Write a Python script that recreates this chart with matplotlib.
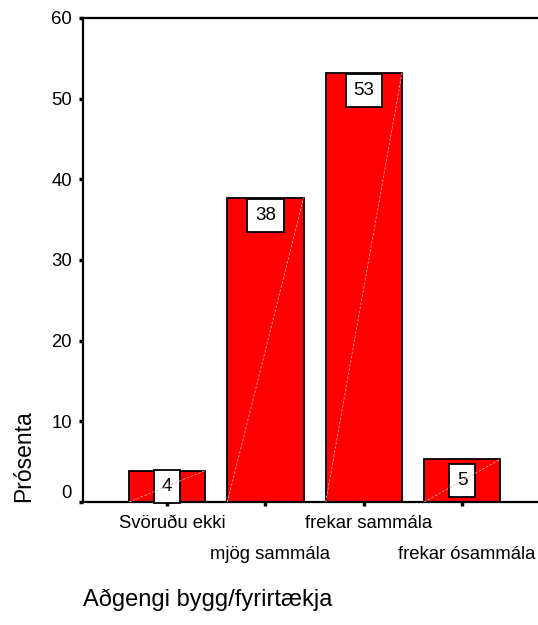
import matplotlib.pyplot as plt

categories = ['Svöruðu ekki', 'mjög sammála', 'frekar sammála', 'frekar ósammála']
percent = [3.9, 37.7, 53.2, 5.3]
value_labels = ['4', '38', '53', '5']
y_ticks = [0, 10, 20, 30, 40, 50, 60]

plt.rcParams['font.family'] = ['Liberation Sans', 'DejaVu Sans']

fig = plt.figure(figsize=(5.38, 6.25), dpi=100)
ax = fig.add_axes([83 / 538, 1 - 502 / 625, 1 - 83 / 538, 484 / 625])

pos = list(range(len(categories)))
width = 0.775
ax.bar(pos, percent, width=width, color='#ff0000', edgecolor='black',
       linewidth=1.3, zorder=2)

# value boxes near the top of each bar, centred on short bars
for x, v, lab in zip(pos, percent, value_labels):
    if v < 10:
        xy, off = (x, v / 2), (0, 0)
    else:
        xy, off = (x, v), (0, -12.5)
    ax.annotate(lab, xy, xytext=off, textcoords='offset points',
                ha='center', va='center', fontsize=13.5, zorder=4,
                bbox=dict(boxstyle='square,pad=0.42', fc='white', ec='black', lw=1.3))
    # faint diagonal seen in the original rendering
    ax.plot([x - width / 2, x + width / 2], [0, v], color='#ffaaaa',
            lw=0.6, ls=(0, (3, 2)), zorder=5)

ax.set_xlim(-0.855, 3.77)
ax.set_ylim(0, 60)
ax.set_yticks(y_ticks)
ax.set_yticklabels([str(t) for t in y_ticks], fontsize=13.3)
ax.get_yticklabels()[0].set_va('bottom')
ax.set_xticks(pos)
ax.set_xticklabels([])

# staggered category labels
for i, (x, name) in enumerate(zip(pos, categories)):
    dy = -18.7 if i % 2 == 0 else -40.7
    ax.annotate(name, (x, 0), xycoords=('data', 'axes fraction'),
                xytext=(3.5, dy), textcoords='offset points',
                ha='center', va='baseline', fontsize=13.3, annotation_clip=False)

ax.tick_params(axis='both', direction='out', length=3, width=2.5, pad=5)
for side in ['left', 'bottom', 'top']:
    ax.spines[side].set_linewidth(1.6)
ax.spines['right'].set_visible(False)

fig.text(24 / 538, 1 - 456 / 625, 'Prósenta', rotation=90, ha='center',
         va='center', fontsize=16.5)
fig.text(83 / 538, 1 - 600 / 625, 'Aðgengi bygg/fyrirtækja', ha='left',
         va='center', fontsize=17)

fig.savefig('out.png', dpi=100)
